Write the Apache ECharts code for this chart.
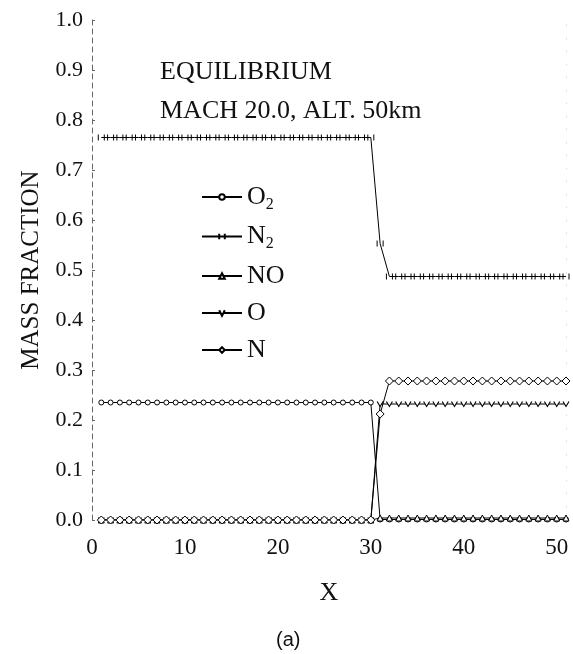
<!DOCTYPE html>
<html>
<head>
<meta charset="utf-8">
<script src="https://cdn.jsdelivr.net/npm/echarts@6/dist/echarts.min.js"></script>
<style>
  html, body { margin: 0; padding: 0; background: #ffffff; }
  #chart { width: 573px; height: 654px; }
</style>
</head>
<body>
<div id="chart"></div>
<script>
// 网格点 X
var xs = [1, 2, 3, 4, 5, 6, 7, 8, 9, 10, 11, 12, 13, 14, 15, 16, 17, 18, 19, 20,
  21, 22, 23, 24, 25, 26, 27, 28, 29, 30, 31, 32, 33, 34, 35, 36, 37, 38, 39, 40,
  41, 42, 43, 44, 45, 46, 47, 48, 49, 50, 51]

// 质量分数
var o2 = [0.235, 0.235, 0.235, 0.235, 0.235, 0.235, 0.235, 0.235, 0.235, 0.235,
  0.235, 0.235, 0.235, 0.235, 0.235, 0.235, 0.235, 0.235, 0.235, 0.235,
  0.235, 0.235, 0.235, 0.235, 0.235, 0.235, 0.235, 0.235, 0.235, 0.235,
  0.001, 0.001, 0.001, 0.001, 0.001, 0.001, 0.001, 0.001, 0.001, 0.001,
  0.001, 0.001, 0.001, 0.001, 0.001, 0.001, 0.001, 0.001, 0.001, 0.001, 0.001]
var n2 = [0.765, 0.765, 0.765, 0.765, 0.765, 0.765, 0.765, 0.765, 0.765, 0.765,
  0.765, 0.765, 0.765, 0.765, 0.765, 0.765, 0.765, 0.765, 0.765, 0.765,
  0.765, 0.765, 0.765, 0.765, 0.765, 0.765, 0.765, 0.765, 0.765, 0.765,
  0.553, 0.487, 0.487, 0.487, 0.487, 0.487, 0.487, 0.487, 0.487, 0.487,
  0.487, 0.487, 0.487, 0.487, 0.487, 0.487, 0.487, 0.487, 0.487, 0.487, 0.487]
var no = [0, 0, 0, 0, 0, 0, 0, 0, 0, 0,
  0, 0, 0, 0, 0, 0, 0, 0, 0, 0,
  0, 0, 0, 0, 0, 0, 0, 0, 0, 0,
  0.004, 0.004, 0.004, 0.004, 0.004, 0.004, 0.004, 0.004, 0.004, 0.004,
  0.004, 0.004, 0.004, 0.004, 0.004, 0.004, 0.004, 0.004, 0.004, 0.004, 0.004]
var o = [0, 0, 0, 0, 0, 0, 0, 0, 0, 0,
  0, 0, 0, 0, 0, 0, 0, 0, 0, 0,
  0, 0, 0, 0, 0, 0, 0, 0, 0, 0,
  0.232, 0.232, 0.232, 0.232, 0.232, 0.232, 0.232, 0.232, 0.232, 0.232,
  0.232, 0.232, 0.232, 0.232, 0.232, 0.232, 0.232, 0.232, 0.232, 0.232, 0.232]
var n = [0, 0, 0, 0, 0, 0, 0, 0, 0, 0,
  0, 0, 0, 0, 0, 0, 0, 0, 0, 0,
  0, 0, 0, 0, 0, 0, 0, 0, 0, 0,
  0.212, 0.278, 0.278, 0.278, 0.278, 0.278, 0.278, 0.278, 0.278, 0.278,
  0.278, 0.278, 0.278, 0.278, 0.278, 0.278, 0.278, 0.278, 0.278, 0.278, 0.278]

var names = ['O2', 'N2', 'NO', 'O', 'N']
var serif = 'Liberation Serif'

function pairs(ys) {
  return xs.map(function (x, i) { return [x, ys[i]] })
}

function mkSeries(name, ys, symbol, size) {
  return {
    name: name,
    type: 'line',
    data: pairs(ys),
    symbol: symbol,
    symbolSize: size,
    lineStyle: { color: '#000', width: 1 },
    itemStyle: { color: '#fff', borderColor: '#000', borderWidth: 1 },
    emphasis: { disabled: true },
    z: 3
  }
}

var myChart = echarts.init(document.getElementById('chart'))
var option = {
  animation: false,
  backgroundColor: '#fff',
  grid: { left: 92, top: 20, width: 474, height: 500 },
  legend: {
    data: names,
    orient: 'vertical',
    left: 196,
    top: 179,
    itemWidth: 40,
    itemHeight: 7,
    itemGap: 11,
    formatter: function (nm) {
      if (nm === 'O2') return 'O{sub|2}'
      if (nm === 'N2') return 'N{sub|2}'
      return nm
    },
    textStyle: {
      fontFamily: serif,
      fontSize: 26,
      color: '#111',
      rich: {
        sub: { fontFamily: serif, fontSize: 16, color: '#111', padding: [15, 0, 0, 0] }
      }
    }
  },
  xAxis: {
    type: 'value',
    min: 0,
    max: 51,
    interval: 10,
    name: 'X',
    nameLocation: 'middle',
    nameGap: 60,
    nameTextStyle: { fontFamily: serif, fontSize: 26, color: '#111' },
    axisLine: { show: false },
    axisTick: { show: false },
    splitLine: { show: false },
    axisLabel: {
      margin: 16,
      fontFamily: serif,
      fontSize: 23,
      color: '#111',
      showMaxLabel: false
    }
  },
  yAxis: [
    {
      type: 'value',
      min: 0,
      max: 1,
      interval: 0.1,
      name: 'MASS FRACTION',
      nameLocation: 'middle',
      nameGap: 48,
      nameTextStyle: { fontFamily: serif, fontSize: 25, color: '#111' },
      axisLine: { show: true, lineStyle: { color: '#666', width: 1, type: [5, 4] } },
      axisTick: { show: true, inside: true, length: 3, lineStyle: { color: '#666' } },
      splitLine: { show: false },
      axisLabel: {
        margin: 9,
        fontFamily: serif,
        fontSize: 22,
        color: '#111',
        formatter: function (v) { return v.toFixed(1) }
      }
    },
    {
      // 右侧淡轴
      type: 'value',
      min: 0,
      max: 1,
      position: 'right',
      axisLine: { show: true, lineStyle: { color: '#ddd', width: 1, type: [1, 12] } },
      axisTick: { show: false },
      axisLabel: { show: false },
      splitLine: { show: false }
    }
  ],
  graphic: [
    {
      type: 'text',
      left: 160,
      top: 59,
      style: { text: 'EQUILIBRIUM', font: '26px "Liberation Serif"', fill: '#111' }
    },
    {
      type: 'text',
      left: 160,
      top: 98,
      style: { text: 'MACH 20.0, ALT. 50km', font: '26px "Liberation Serif"', fill: '#111' }
    },
    {
      type: 'text',
      left: 276,
      top: 630,
      style: { text: '(a)', font: '20px "Liberation Sans"', fill: '#111' }
    }
  ],
  series: [
    mkSeries('O2', o2, 'circle', 5),
    mkSeries('N2', n2, 'path://M0,0L0,10M8,0L8,10', [6, 6]),
    mkSeries('NO', no, 'triangle', 6),
    mkSeries('O', o, 'path://M0,0L5,10L10,0', [6, 5]),
    mkSeries('N', n, 'diamond', 8)
  ]
}
myChart.setOption(option)
</script>
</body>
</html>
